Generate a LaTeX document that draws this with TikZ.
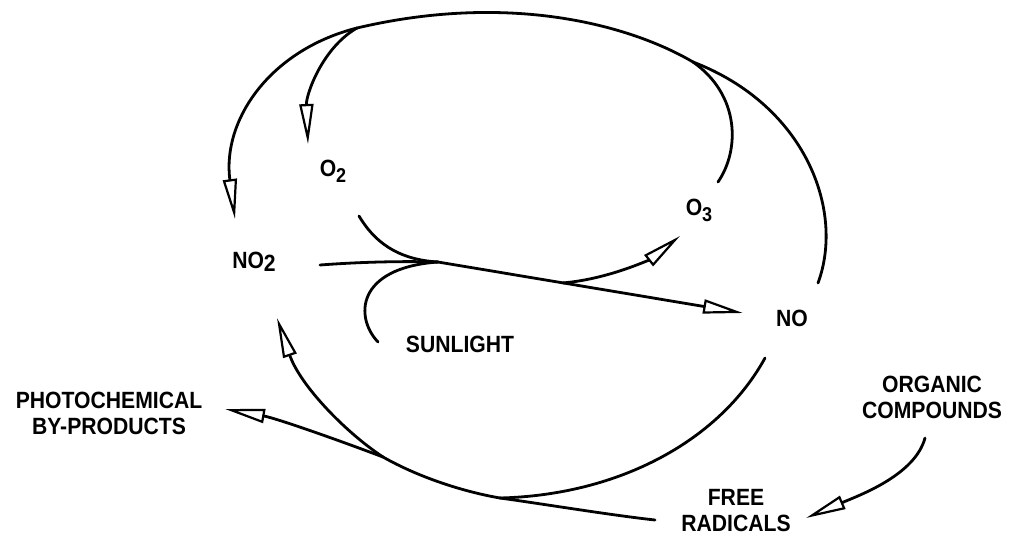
\documentclass[tikz,border=0pt]{standalone}
\usepackage{fontspec}
\setmainfont[FakeStretch=0.9]{Liberation Sans}
\usetikzlibrary{arrows.meta,calc}
\newcommand\lowdig[2]{\raisebox{-#1}{#2}}
\begin{document}
\begin{tikzpicture}[x=1pt,y=-1pt,
  lbl/.style={font=\fontsize{23.5}{26}\selectfont\bfseries, inner sep=0pt, align=center},
  link/.style={line width=2.8pt, line cap=round},
  arr/.style={link, -{Triangle[open,length=40pt,width=14pt,line width=2.2pt]}}]
\fill[white] (0,0) rectangle (1011,541);
\useasboundingbox (0,0) rectangle (1011,541);
% labels
\node[lbl] (o2) at (333,171) {O\lowdig{6pt}{\fontsize{20}{20}\selectfont 2}};
\node[lbl] (no2) at (254,262) {NO\lowdig{3pt}{2}};
\node[lbl] (o3) at (699,210) {O\lowdig{6pt}{\fontsize{20}{20}\selectfont 3}};
\node[lbl] (no) at (792,318) {NO};
\node[lbl] (sun) at (460,344) {SUNLIGHT};
\node[lbl] (photo) at (109,413) {PHOTOCHEMICAL\\BY-PRODUCTS};
\node[lbl] (org) at (932,397) {ORGANIC\\COMPOUNDS};
\node[lbl] (free) at (736,511) {FREE\\RADICALS};
% junctions
\coordinate (J1) at (693,62);
\coordinate (J2) at (357,28);
\coordinate (J3) at (438,262);
\coordinate (J5) at (500,498);
\coordinate (J6) at (383,457);
% upper cycle: O3 + NO -> O2 + NO2
\draw[link] ($(o3)+(19,-28)$) .. controls (740,150) and (740,95) .. (J1);
\draw[link] ($(no)+(26,-35)$) .. controls (845,210) and (805,105) .. (J1);
\draw[link] (J1) .. controls (630,25) and (510,-8) .. (J2);
\draw[arr] (J2) .. controls (270,50) and (222,120) .. ($(no2)+(-19,-43)$);
\draw[arr] (J2) .. controls (322,48) and (306,95) .. ($(o2)+(-25,-27)$);
% NO2 + O2 + sunlight -> O3 + NO
\draw[link] ($(o2)+(26,45)$) .. controls (378,248) and (405,260) .. (J3);
\draw[link] ($(no2)+(66,3)$) .. controls (360,262) and (400,261) .. (J3);
\draw[link] ($(sun)+(-82,-2)$) .. controls (355,318) and (355,268) .. (J3);
\draw[arr] (J3) -- coordinate[pos=0.41] (J4) ($(no)+(-49,-5)$);
\draw[arr] (J4) .. controls (610,279) and (652,258) .. ($(o3)+(-19,26)$);
% lower cycle
\draw[link] ($(no)+(-27,40)$) .. controls (720,440) and (620,495) .. (J5);
\draw[link] ($(free)+(-81,9)$) .. controls (610,515) and (550,505) .. (J5);
\draw[link] (J5) .. controls (465,492) and (420,478) .. (J6);
\draw[arr] (J6) .. controls (345,432) and (300,385) .. ($(no2)+(23,56)$);
\draw[arr] (J6) .. controls (330,437) and (275,418) .. ($(photo)+(116,-4)$);
\draw[arr] ($(org)+(-7,41)$) .. controls (915,475) and (860,495) .. ($(free)+(70,7)$);
\end{tikzpicture}
\end{document}
